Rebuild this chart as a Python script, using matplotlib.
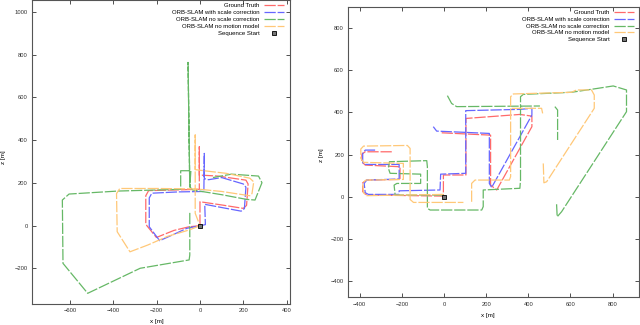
import numpy as np
import matplotlib
matplotlib.use("Agg")
import matplotlib.pyplot as plt

nan = np.nan

# ---- left sequence (values in metres) ----
left_gt_x = [0, 0, 100, 200, 215, 222, 212, 150, 83, 10, -3, -3, -3, -120, -237, -250, -250, -245, -201, -120, -50, 0]
left_gt_z = [0, 112, 97, 81, 95, 195, 213, 222, 232, 236, 236, 369, 170, 167, 164, 140, 10, 0, -55, -22, -5, 0]

left_scale_x = [0, 25, 22, 100, 190, 205, 212, 200, 100, 40, 20, 20, 18, -100, -222, -234, -234, -186, -120, -60, 0]
left_scale_z = [0, 5, 100, 85, 68, 80, 180, 195, 225, 215, 220, 338, 160, 158, 152, 130, -5, -70, -40, -12, 0]

left_noscale_x = [-47, -47, -50, -276, -518, -632, -635, -604, -378, -89, -89, -42, -47, -55, -47, -34, 100, 215, 254, 286, 270, 145, 60]
left_noscale_z = [60, -137, -160, -199, -316, -176, 120, 148, 162, 170, 257, 257, 182, 763, 182, 167, 145, 123, 120, 201, 232, 241, 225]

left_nomotion_x = [0, -50, -150, -240, -323, -382, -385, -370, -200, -20, 100, 230, 240, 248, 230, 120, 60, -22, -22, -22, 0]
left_nomotion_z = [0, -20, -50, -90, -122, -28, 150, 174, 174, 172, 160, 140, 150, 205, 222, 245, 252, 262, 424, 58, 0]

# ---- right sequence ----
right_gt_x = [-248, -374, -390, -390, -374, -209, -209, -367, -386, -386, -367, -209, -3, -3, 104, 104, 360, 417, 417, 250, 221, 221, 155, -11]
right_gt_z = [213, 213, 202, 166, 150, 142, 82, 79, 66, 24, 8, 6, 3, 103, 103, 371, 390, 382, 332, 32, 55, 292, 295, 303]

right_scale_x = [-327, -374, -386, -386, -374, -213, -213, -367, -379, -374, -359, -213, -213, -19, -16, 103, 103, 360, 417, 417, 226, 215, 215, -35, -51]
right_scale_z = [221, 221, 205, 161, 153, 153, 84, 79, 63, 19, 11, 11, 28, 32, 107, 111, 408, 414, 419, 387, 44, 63, 300, 311, 332]

right_noscale_x = [-3, -232, -237, -224, -111, -111, -256, -264, -259, -82, -79, -79, -66, 179, 186, 186, 360, 363, 363, 376, 605, 732, 803, 866, 866, 558, 537, 534,
                   nan, 16, 36, 60, 455, nan, 526, 539, 539]
right_noscale_z = [8, 8, 55, 63, 63, 107, 111, 134, 166, 171, 142, -55, -63, -63, -47, 32, 40, 79, 474, 485, 495, 514, 525, 506, 403, -71, -95, -32,
                   nan, 479, 442, 427, 430, nan, 427, 411, 269]

right_nomotion_x = [-3, -367, -382, -386, -370, -193, -193, -382, -395, -395, -382, -174, -161, -161, -145, 92,
                    nan, 131, 131, 147, 310, 316, 316, 329, 605, 629, 700, 713, 713, 487, 474, 471,
                    nan, 321, 463, 468]
right_nomotion_z = [11, 5, 19, 66, 79, 82, 158, 163, 182, 226, 240, 243, 229, -13, -27, -27,
                    nan, -24, 63, 79, 79, 95, 474, 487, 495, 506, 506, 482, 419, 71, 66, 158,
                    nan, 419, 419, 395]

series_labels = ["Ground Truth", "ORB-SLAM with scale correction",
                 "ORB-SLAM no scale correction", "ORB-SLAM no motion model"]
series_colors = ["#ff6a6a", "#6666ff", "#66b866", "#ffc878"]

plt.rcParams["font.family"] = ["Liberation Sans", "DejaVu Sans"]

fig = plt.figure(figsize=(6.4, 3.25), dpi=100)
ax1 = fig.add_axes([0.05, 0.0646, 0.403, 0.9354])
ax2 = fig.add_axes([0.544, 0.085, 0.454, 0.894])


def draw(ax, tracks, xlim, ylim, xticks, yticks, legend_anchor):
    for (xs, zs), lab, col in zip(tracks, series_labels, series_colors):
        ax.plot(xs, zs, color=col, lw=0.9, ls=(0, (9, 1.5)), label=lab)
    ax.plot([0], [0], ls="none", marker="s", ms=2.6, mfc="#777777",
            mec="black", mew=0.6, label="Sequence Start")
    ax.set_xlim(*xlim)
    ax.set_ylim(*ylim)
    ax.set_xticks(xticks)
    ax.set_yticks(yticks)
    ax.tick_params(direction="in", length=3, width=0.6, labelsize=4.2,
                   top=True, right=True, pad=3, colors="#333333")
    for sp in ax.spines.values():
        sp.set_color("#555555")
        sp.set_linewidth(0.8)
    ax.legend(loc="upper right", bbox_to_anchor=legend_anchor,
              bbox_transform=fig.transFigure, frameon=False, fontsize=4.3,
              markerfirst=False, handlelength=3.2, handletextpad=0.8,
              labelspacing=0.28, borderpad=0, borderaxespad=0)


draw(ax1,
     [(left_gt_x, left_gt_z), (left_scale_x, left_scale_z),
      (left_noscale_x, left_noscale_z), (left_nomotion_x, left_nomotion_z)],
     (-775, 415), (-366, 1055),
     [-600, -400, -200, 0, 200, 400], [-200, 0, 200, 400, 600, 800, 1000],
     (0.443, 0.99))

draw(ax2,
     [(right_gt_x, right_gt_z), (right_scale_x, right_scale_z),
      (right_noscale_x, right_noscale_z), (right_nomotion_x, right_nomotion_z)],
     (-455, 924), (-477, 900),
     [-400, -200, 0, 200, 400, 600, 800], [-400, -200, 0, 200, 400, 600, 800],
     (0.99, 0.97))

fig.text(157 / 640, 1 - 321 / 325, "x [m]", ha="center", va="center", fontsize=4.5)
fig.text(4 / 640, 1 - 157 / 325, "z [m]", ha="center", va="center", fontsize=4.5, rotation=90)
fig.text(488 / 640, 1 - 315 / 325, "x [m]", ha="center", va="center", fontsize=4.5)
fig.text(322 / 640, 1 - 155 / 325, "z [m]", ha="center", va="center", fontsize=4.5, rotation=90)

fig.savefig("out.png", dpi=100)
